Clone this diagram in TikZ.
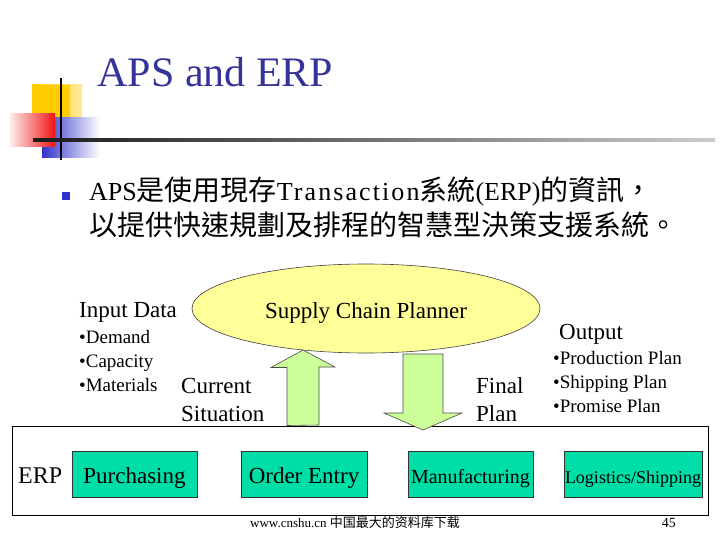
\documentclass[tikz,border=0pt]{standalone}
\usepackage{fontspec}
\setmainfont{Liberation Serif}
\newfontfamily\cjktc{Noto Sans CJK TC}
\newfontfamily\cjksc{Noto Sans CJK SC}
\usetikzlibrary{shapes.geometric}
\definecolor{titleblue}{RGB}{51,51,153}
\definecolor{bulletblue}{RGB}{51,51,204}
\definecolor{decoyellow}{RGB}{255,204,0}
\definecolor{decoblue}{RGB}{51,51,204}
\definecolor{decored}{RGB}{240,20,20}
\definecolor{ellfill}{RGB}{255,255,153}
\definecolor{arrfill}{RGB}{204,255,153}
\definecolor{boxfill}{RGB}{0,222,168}
\newcommand\latpart[1]{{\rmfamily\fontsize{26}{28}\selectfont #1}}
\newcommand\cjkpart[1]{{\cjktc #1}}
\tikzset{
  fs/.style={font=\fontsize{#1}{#1}\selectfont},
  lbl/.style={inner sep=0pt, anchor=base west},
  modbox/.style={draw=black!80, fill=boxfill, minimum height=46pt, inner sep=0pt,
                 text height=18pt, text depth=0pt},
  blockarrow/.style={draw=black!70, fill=arrfill, line width=0.6pt, line join=miter}
}
\begin{document}
\begin{tikzpicture}[x=1pt,y=-1pt]
\useasboundingbox (0,0) rectangle (720,540);
% ---- decoration ----
\shade[left color=decoyellow, right color=decoyellow!40] (32,85) rectangle (82,118);
\fill[decoyellow] (32,85) rectangle (70,118);
\shade[left color=decoblue, right color=white] (42,118) rectangle (100,158);
\shade[left color=decored!8, right color=decored] (10,114) rectangle (55,147);
\draw[line width=2.5pt] (61,78) -- (61,160);
\shade[left color=black!90, right color=black!20] (33,138.8) rectangle (715,141.6);
% ---- title ----
\node[lbl, anchor=base, fs=42, text=titleblue] (title) at (215.5,87) {APS and ERP};
% ---- bullet text ----
\fill[bulletblue] (62,192) rectangle (70,200);
\node[lbl, fs=28] (line1) at (89,201)
  {\latpart{APS}\cjkpart{是使用現存}\latpart{\addfontfeature{LetterSpace=8}Transaction}\cjkpart{系統}\latpart{(ERP)}\cjkpart{的資訊，}};
\node[lbl, fs=28] (line2) at (89,236)
  {\cjkpart{以提供快速規劃及排程的智慧型決策支援系統。}};
% ---- planner ----
\node[ellipse, draw=black!75, fill=ellfill, line width=0.6pt, minimum width=348pt,
      minimum height=89pt, inner sep=0pt] (scp) at (366,308.5) {};
\node[lbl, anchor=base, fs=23] (scptext) at (366,318) {Supply Chain Planner};
% ---- input data ----
\node[lbl, fs=23] (input) at (79,317) {Input Data};
\node[lbl, fs=19] (dem) at (79,343) {•Demand};
\node[lbl, fs=19] (cap) at (79,367) {•Capacity};
\node[lbl, fs=19] (mat) at (79,391) {•Materials};
\node[lbl, fs=23] (cur1) at (181,393) {Current};
\node[lbl, fs=23] (cur2) at (181,421.5) {Situation};
\node[lbl, fs=23] (fin1) at (476,393) {Final};
\node[lbl, fs=23] (fin2) at (476,421.5) {Plan};
% ---- output ----
\node[lbl, fs=23] (output) at (559,339) {Output};
\node[lbl, fs=19] (prod) at (553,364) {•Production Plan};
\node[lbl, fs=19] (ship) at (553,388) {•Shipping Plan};
\node[lbl, fs=19] (prom) at (553,412) {•Promise Plan};
% ---- ERP frame ----
\node[draw=black, line width=0.8pt, minimum width=696pt, minimum height=89pt,
      inner sep=0pt, anchor=north west] (erp) at (12,426) {};
% ---- block arrows ----
\coordinate (upbase) at (303,425.5);
\coordinate (upTip) at (303,350);
\draw[blockarrow] (upbase) ++(-16,0) -- ++(0,-58) -- ++(-16,0) -- (upTip)
   -- ++(32,17) -- ++(-16,0) -- ++(0,58) -- cycle;
\coordinate (dnTop) at (423,354);
\coordinate (dnTip) at (423,430);
\draw[blockarrow] (dnTop) ++(-20,0) -- ++(0,59) -- ++(-19,0) -- (dnTip)
   -- ++(39,-17) -- ++(-19,0) -- ++(0,-59) -- cycle;
% ---- ERP modules ----
\node[lbl, fs=24] (erplbl) at (18,483) {ERP};
\node[modbox, minimum width=125pt, fs=23] (purch) at (134.5,474) {Purchasing};
\node[modbox, minimum width=126pt, fs=23] (order) at (304,474) {Order Entry};
\node[modbox, minimum width=125pt, fs=20] (manu) at (470.5,474) {Manufacturing};
\node[modbox, minimum width=138pt, fs=18] (logi) at (633,474) {Logistics/Shipping};
% ---- footer ----
\node[lbl, fs=13] (footer) at (250,527) {www.cnshu.cn {\cjksc 中国最大的资料库下载}};
\node[lbl, anchor=base east, fs=14] (page) at (676,527) {45};
\end{tikzpicture}
\end{document}
